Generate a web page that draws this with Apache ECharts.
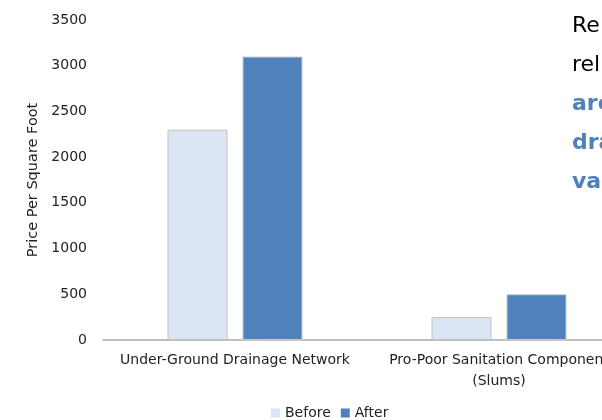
<!DOCTYPE html>
<html>
<head>
<meta charset="utf-8">
<script src="https://cdn.jsdelivr.net/npm/echarts@6/dist/echarts.min.js"></script>
<style>
  html, body { margin: 0; padding: 0; background: #fff; overflow: hidden; }
  #chart { width: 640px; height: 420px; }
</style>
</head>
<body>
<div id="chart"></div>
<script>
// data
var categories = ['Under-Ground Drainage Network', 'Pro-Poor Sanitation Component\n(Slums)'];
var seriesNames = ['Before', 'After'];
var before = [2300, 250];
var after = [3100, 500];
var sideText = ['Re', 'rel', 'are', 'dra', 'va'];

var font = 'DejaVu Sans';

// the plot runs past the right edge of the 602px window, like the source slide
var option = {
  animation: false,
  textStyle: { fontFamily: font },
  grid: {
    left: 103,
    right: 9,
    top: 20,
    bottom: 80
  },
  legend: {
    data: seriesNames,
    top: 401,
    left: 266,
    icon: 'rect',
    itemWidth: 9,
    itemHeight: 9,
    itemGap: 10,
    itemStyle: { borderWidth: 0 },
    textStyle: { fontSize: 14, color: '#222', fontFamily: font }
  },
  xAxis: {
    type: 'category',
    data: categories,
    axisLine: { lineStyle: { color: '#BFBFBF', width: 2 } },
    axisTick: { show: false },
    axisLabel: { color: '#222', fontSize: 14, margin: 10, interval: 0, lineHeight: 21 }
  },
  yAxis: {
    type: 'value',
    min: 0,
    max: 3500,
    interval: 500,
    name: 'Price Per Square Foot',
    nameLocation: 'middle',
    nameGap: 60,
    nameTextStyle: { color: '#222', fontSize: 14.5 },
    axisLine: { show: false },
    axisTick: { show: false },
    splitLine: { show: false },
    axisLabel: {
      color: '#222',
      fontSize: 14,
      margin: 16,
      formatter: function (v) { return String(v); }
    }
  },
  series: [
    {
      name: seriesNames[0],
      type: 'bar',
      data: before,
      barWidth: 60,
      barGap: '25%',
      itemStyle: { color: '#DCE6F2', borderColor: '#BFBFBF', borderWidth: 1 }
    },
    {
      name: seriesNames[1],
      type: 'bar',
      data: after,
      barWidth: 60,
      itemStyle: { color: '#4F81BD', borderColor: '#C8C8C8', borderWidth: 1 }
    }
  ],
  graphic: sideText.map(function (t, i) {
    return {
      type: 'text',
      left: 572,
      top: 15 + i * 39,
      style: {
        text: t,
        fontSize: 22,
        fontFamily: font,
        fontWeight: i < 2 ? 'normal' : 'bold',
        fill: i < 2 ? '#000' : '#4F81BD'
      }
    };
  })
};

var chart = echarts.init(document.getElementById('chart'));
chart.setOption(option);
</script>
</body>
</html>
